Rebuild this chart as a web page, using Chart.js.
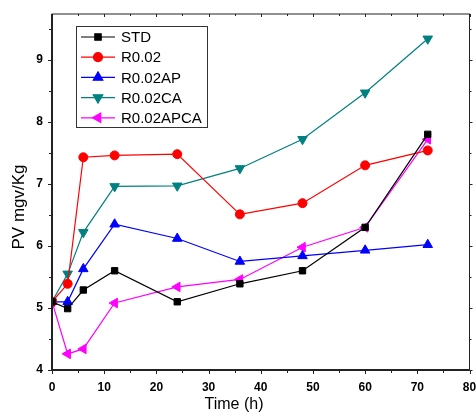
<!DOCTYPE html>
<html>
<head>
<meta charset="utf-8">
<script src="https://cdn.jsdelivr.net/npm/chart.js@4/dist/chart.umd.min.js"></script>
<style>
  html, body { margin: 0; padding: 0; background: #fff; }
  #wrap { width: 476px; height: 414px; }
</style>
</head>
<body>
<div id="wrap"><canvas id="pvChart" width="476" height="414"></canvas></div>
<script>
const hours = [0, 3, 6, 12, 24, 36, 48, 60, 72];
const seriesNames = ["STD", "R0.02", "R0.02AP", "R0.02CA", "R0.02APCA"];
const stdValues = [5.1, 4.99, 5.29, 5.6, 5.1, 5.39, 5.6, 6.3, 7.8];
const r002Values = [5.1, 5.39, 7.43, 7.46, 7.48, 6.51, 6.69, 7.3, 7.54];
const r002apValues = [5.1, 5.1, 5.63, 6.35, 6.12, 5.75, 5.84, 5.93, 6.02];
const r002caValues = [5.1, 5.55, 6.22, 6.96, 6.97, 7.25, 7.72, 8.47, 9.34];
const r002apcaValues = [5.1, 4.26, 4.34, 5.08, 5.34, 5.46, 5.98, 6.3, 7.72];
const xTicks = [0, 10, 20, 30, 40, 50, 60, 70, 80];
const yTicks = [4, 5, 6, 7, 8, 9];

const colors = ["#000000", "#ff0000", "#0000ff", "#008080", "#ff00ff"];
const markers = [
  { style: "rect", rotation: 0, radius: 4.5 },
  { style: "circle", rotation: 0, radius: 4.5 },
  { style: "triangle", rotation: 0, radius: 5.5 },
  { style: "triangle", rotation: 180, radius: 5.5 },
  { style: "triangle", rotation: -90, radius: 5.5 }
];
const allValues = [stdValues, r002Values, r002apValues, r002caValues, r002apcaValues];

const datasets = seriesNames.map((name, i) => ({
  label: name,
  data: hours.map((h, j) => ({ x: h, y: allValues[i][j] })),
  borderColor: colors[i],
  backgroundColor: colors[i],
  borderWidth: 1.2,
  pointStyle: markers[i].style,
  rotation: markers[i].rotation,
  pointRadius: markers[i].radius,
  pointBorderWidth: 1,
  tension: 0
}));

// frame, minor ticks, axis titles and inset legend
const decorations = {
  id: "decorations",
  afterDraw(chart) {
    const { ctx, chartArea: a, scales } = chart;
    const xs = scales.x, ys = scales.y;
    ctx.save();
    ctx.strokeStyle = "#222";
    ctx.lineWidth = 1;
    ctx.strokeRect(a.left, a.top, a.right - a.left, a.bottom - a.top);
    ctx.lineWidth = 2;
    ctx.beginPath();
    ctx.moveTo(a.left, a.top); ctx.lineTo(a.left, a.bottom); ctx.lineTo(a.right, a.bottom);
    ctx.stroke();

    ctx.lineWidth = 1;
    ctx.beginPath();
    for (let v = 0; v <= 80; v += 5) {
      const px = Math.round(xs.getPixelForValue(v)) + 0.5;
      const len = v % 10 === 0 ? 4 : 3;
      ctx.moveTo(px, a.bottom); ctx.lineTo(px, a.bottom + len);
      ctx.moveTo(px, a.top); ctx.lineTo(px, a.top + len - 1);
    }
    for (let v = 4; v <= 9.5; v += 0.5) {
      const py = Math.round(ys.getPixelForValue(v)) + 0.5;
      const len = Number.isInteger(v) ? 4 : 3;
      ctx.moveTo(a.left, py); ctx.lineTo(a.left - len, py);
      ctx.moveTo(a.right, py); ctx.lineTo(a.right + len - 1, py);
    }
    ctx.stroke();

    ctx.fillStyle = "#000";
    ctx.font = "16px 'Liberation Sans', Arial, sans-serif";
    ctx.textAlign = "center";
    ctx.textBaseline = "middle";
    ctx.fillText("Time (h)", 234, 405);
    ctx.save();
    ctx.translate(19, 207);
    ctx.rotate(-Math.PI / 2);
    ctx.font = "17px 'Liberation Sans', Arial, sans-serif";
    ctx.fillText("PV mgv/Kg", 0, 0);
    ctx.restore();

    // legend box
    const bx = 76, by = 26, bw = 131, bh = 101;
    ctx.fillStyle = "#fff";
    ctx.fillRect(bx, by, bw, bh);
    ctx.strokeStyle = "#333";
    ctx.lineWidth = 1;
    ctx.strokeRect(bx + 0.5, by + 0.5, bw, bh);
    ctx.font = "15px 'Liberation Sans', Arial, sans-serif";
    ctx.textAlign = "left";
    chart.data.datasets.forEach((ds, i) => {
      const cy = 37 + i * 20.2;
      ctx.strokeStyle = ds.borderColor;
      ctx.lineWidth = 1.2;
      ctx.beginPath();
      ctx.moveTo(81, cy); ctx.lineTo(115, cy);
      ctx.stroke();
      ctx.fillStyle = ds.backgroundColor;
      Chart.helpers.drawPoint(ctx, {
        pointStyle: ds.pointStyle, rotation: ds.rotation,
        radius: ds.pointRadius, borderWidth: 1
      }, 98, cy);
      ctx.fillStyle = "#000";
      ctx.fillText(ds.label, 121, cy + 1);
    });
    ctx.restore();
  }
};

new Chart(document.getElementById("pvChart"), {
  type: "line",
  data: { datasets },
  options: {
    responsive: false,
    animation: false,
    layout: { padding: { top: 14, right: 6, left: 0, bottom: 0 } },
    plugins: { legend: { display: false }, tooltip: { enabled: false } },
    scales: {
      x: {
        type: "linear",
        min: 0, max: 80,
        grid: { display: false, drawTicks: false },
        border: { display: false },
        afterBuildTicks: s => { s.ticks = xTicks.map(v => ({ value: v })); },
        afterFit: s => { s.height = 44; s.paddingLeft = 0; s.paddingRight = 0; },
        ticks: {
          padding: 10,
          color: "#000",
          font: { family: "'Liberation Sans', Arial, sans-serif", size: 12, weight: "bold" }
        }
      },
      y: {
        min: 4, max: 9.74,
        grid: { display: false, drawTicks: false },
        border: { display: false },
        afterBuildTicks: s => { s.ticks = yTicks.map(v => ({ value: v })); },
        afterFit: s => { s.width = 52; s.paddingTop = 0; s.paddingBottom = 0; },
        ticks: {
          padding: 9,
          color: "#000",
          font: { family: "'Liberation Sans', Arial, sans-serif", size: 12, weight: "bold" }
        }
      }
    }
  },
  plugins: [decorations]
});
</script>
</body>
</html>
